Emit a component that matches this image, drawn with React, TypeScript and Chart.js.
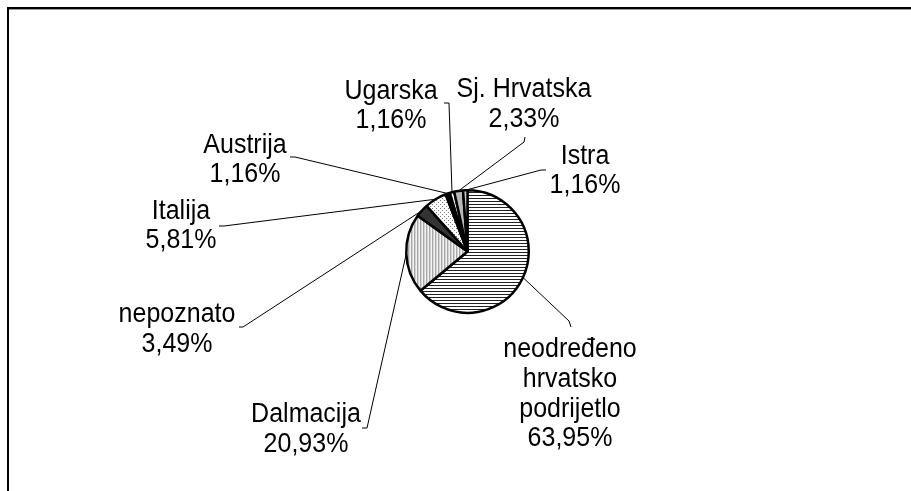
import React, { useEffect, useRef } from "react";
import { Chart, registerables } from "chart.js";

Chart.register(...registerables);

// ---- data ----
const categories = [
  "neodređeno\nhrvatsko\npodrijetlo",
  "Dalmacija",
  "nepoznato",
  "Italija",
  "Austrija",
  "Ugarska",
  "Sj. Hrvatska",
  "Istra",
];
const values = [63.95, 20.93, 3.49, 5.81, 1.16, 1.16, 2.33, 1.16];

// ---- label layout (text centre x, first baseline y, leader elbow, leader end) ----
const labelCenterX = [570, 306, 177, 181, 245, 391, 524, 585];
const labelBaseY = [357, 422, 322, 218.5, 152.5, 98.5, 97, 163.5];
const leaderElbow = [
  [569, 321], [367, 428], [243, 327], [224, 226], [295, 157], [449, 103], [524, 142], [541, 170],
];
const leaderEnd = [
  [571, 327], [362, 428], [239, 327], [219, 226], [290, 157], [444, 103], [525, 137], [546, 170],
];

function makePattern(w: number, h: number, draw: (c: CanvasRenderingContext2D) => void) {
  const cv = document.createElement("canvas");
  cv.width = w;
  cv.height = h;
  const c = cv.getContext("2d")!;
  draw(c);
  return c.createPattern(cv, "repeat")!;
}

export default function App() {
  const ref = useRef<HTMLCanvasElement | null>(null);

  useEffect(() => {
    const canvas = ref.current!;
    const hLines = makePattern(4, 3, (c) => {
      c.fillStyle = "#fff";
      c.fillRect(0, 0, 4, 3);
      c.fillStyle = "#222";
      c.fillRect(0, 0, 4, 1);
    });
    const vLines = makePattern(3, 4, (c) => {
      c.fillStyle = "#a8a8a8";
      c.fillRect(0, 0, 1, 4);
      c.fillStyle = "#d4d4d4";
      c.fillRect(1, 0, 1, 4);
      c.fillStyle = "#f2f2f2";
      c.fillRect(2, 0, 1, 4);
    });
    const dots = makePattern(4, 4, (c) => {
      c.fillStyle = "#fff";
      c.fillRect(0, 0, 4, 4);
      c.fillStyle = "#777";
      c.fillRect(0, 0, 1, 1);
      c.fillRect(2, 2, 1, 1);
    });
    const fills: any[] = [hLines, vLines, "#333333", dots, "#000000", "#ffffff", "#b8b8b8", "#cfcfcf"];

    const labelPlugin = {
      id: "labels",
      afterDraw(chart: any) {
        const ctx: CanvasRenderingContext2D = chart.ctx;
        ctx.save();
        // frame (cropped box: only top and left visible)
        ctx.fillStyle = "#000";
        ctx.fillRect(7, 7, 904, 2);
        ctx.fillRect(7, 7, 2, 484);
        ctx.fillStyle = "#9a9a9a";
        ctx.fillRect(9, 9, 902, 1);

        const meta = chart.getDatasetMeta(0);
        meta.data.forEach((arc: any, i: number) => {
          const p = arc.getProps(["x", "y", "startAngle", "endAngle", "outerRadius"], true);
          const mid = (p.startAngle + p.endAngle) / 2;
          const ex = p.x + Math.cos(mid) * p.outerRadius;
          const ey = p.y + Math.sin(mid) * p.outerRadius;
          ctx.strokeStyle = "#000";
          ctx.lineWidth = 1;
          ctx.beginPath();
          ctx.moveTo(ex, ey);
          ctx.lineTo(leaderElbow[i][0], leaderElbow[i][1]);
          ctx.lineTo(leaderEnd[i][0], leaderEnd[i][1]);
          ctx.stroke();

          const lines = categories[i].split("\n");
          lines.push(values[i].toFixed(2).replace(".", ",") + "%");
          ctx.fillStyle = "#000";
          ctx.font = "25px 'Liberation Sans', Arial, sans-serif";
          ctx.textAlign = "center";
          ctx.textBaseline = "alphabetic";
          lines.forEach((t, k) => {
            ctx.save();
            ctx.translate(labelCenterX[i], labelBaseY[i] + k * 29.8);
            ctx.scale(1, 1.1);
            ctx.fillText(t, 0, 0);
            ctx.restore();
          });
        });
        ctx.restore();
      },
    };

    const chart = new Chart(canvas, {
      type: "pie",
      data: {
        labels: categories,
        datasets: [
          {
            data: values,
            backgroundColor: fills,
            borderColor: "#000",
            borderWidth: 2.5,
            hoverOffset: 0,
            offset: 0,
          },
        ],
      },
      options: {
        responsive: false,
        animation: false,
        events: [],
        layout: { padding: { left: 405, right: 381, top: 189, bottom: 177 } },
        plugins: { legend: { display: false }, tooltip: { enabled: false } },
      },
      plugins: [labelPlugin],
    });
    return () => chart.destroy();
  }, []);

  return (
    <div style={{ position: "absolute", left: 0, top: 0, width: 911, height: 491, background: "#fff" }}>
      <canvas ref={ref} width={911} height={491} style={{ display: "block" }} />
    </div>
  );
}
